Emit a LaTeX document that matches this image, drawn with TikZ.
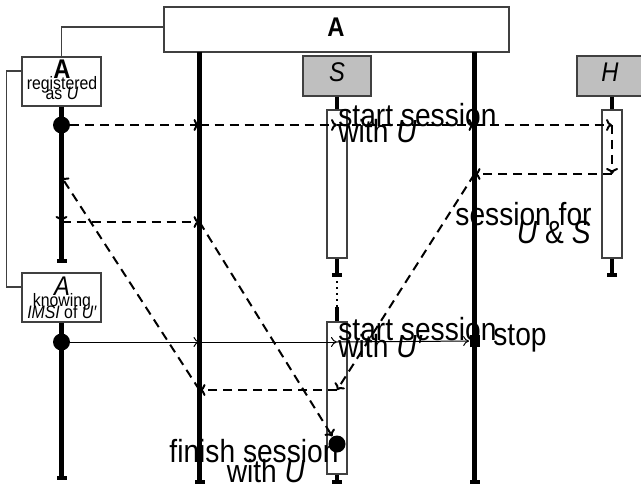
\documentclass[tikz,border=0pt]{standalone}
\usepackage{fontspec}
\setmainfont{Liberation Sans}
\newfontfamily\lblfont[FakeStretch=0.88]{Liberation Sans}
\usetikzlibrary{arrows.meta}

\tikzset{
  lifeline/.style={line width=2.2pt},
  lifeend/.style={line width=2.2pt, -{Bar[width=5pt]}},
  objbox/.style={draw=black!75, line width=0.7pt, inner sep=0pt},
  actbox/.style={draw=black!75, line width=0.6pt, fill=white, minimum width=10pt, inner sep=0pt},
  msg/.style={line width=1pt, dash pattern=on 4.5pt off 3pt, -{To[length=3pt,width=6pt]}},
  syncmsg/.style={line width=0.5pt, -{To[length=3pt,width=5pt]}},
  msgdot/.style={circle, fill, inner sep=0pt, minimum size=8.5pt},
  bigtext/.style={font=\lblfont\fontsize{16}{16}\selectfont, inner sep=0pt},
  smalltext/.style={font=\lblfont\fontsize{9}{9}\selectfont, inner sep=0pt},
  headtext/.style={font=\lblfont\fontsize{13.5}{13.5}\selectfont, inner sep=0pt},
  headbold/.style={font=\lblfont\fontsize{13.5}{13.5}\selectfont\bfseries, inner sep=0pt},
}

\begin{document}
\begin{tikzpicture}[x=0.5pt,y=-0.5pt]
    \useasboundingbox (0,0) rectangle (641,486);

    % Objects
    \node[objbox, minimum width=172.5pt, minimum height=22.5pt] (sys) at (336.5,29.5) {};
    \node[objbox, minimum width=39.5pt, minimum height=24.5pt] (regU) at (61.5,81.5) {};
    \node[objbox, minimum width=39.5pt, minimum height=24.5pt] (knowU) at (61.5,297.5) {};
    \node[objbox, fill=gray!50, minimum width=34pt, minimum height=20pt] (srv) at (337,76) {};
    \node[objbox, fill=gray!50, minimum width=35pt, minimum height=20pt] (hss) at (612,76) {};

    % Ends of the lifelines
    \coordinate (uEnd1) at (61.5,263);
    \coordinate (uEnd2) at (61.5,480);
    \coordinate (aTop) at (199.5,52);
    \coordinate (aEnd) at (199.5,484);
    \coordinate (bTop) at (474.5,52);
    \coordinate (bEnd) at (474.5,484);
    \coordinate (sEnd1) at (337,277);
    \coordinate (sGap1) at (337,281);
    \coordinate (sGap2) at (337,307);
    \coordinate (sEnd2) at (337,484);
    \coordinate (hEnd) at (612,277);

    % Draw lifelines
    \draw[lifeend] (regU.south) -- (uEnd1);
    \draw[lifeend] (knowU.south) -- (uEnd2);
    \draw[lifeend] (aTop) -- (aEnd);
    \draw[lifeend] (bTop) -- (bEnd);
    \draw[lifeend] (srv.south) -- (sEnd1);
    \draw[line width=1pt, dotted] (sGap1) -- (sGap2);
    \draw[lifeline] (sGap2) -- (337,322);
    \draw[lifeend] (hss.south) -- (hEnd);

    % Activation boxes
    \node[actbox, minimum height=74pt] (srvAct1) at (337,184) {};
    \node[actbox, minimum height=74pt] (hssAct) at (612,184) {};
    \node[actbox, minimum height=76pt] (srvAct2) at (337,398) {};
    \draw[lifeend] (srvAct2.south) -- (sEnd2);

    % Brackets between the objects
    \draw[line width=0.7pt, draw=black!75] ([yshift=1.25pt]sys.west) -| (regU.north);
    \draw[line width=0.7pt, draw=black!75] ([yshift=5.25pt]regU.west) -- ++(-15,0) |- ([yshift=5.25pt]knowU.west);

    % Events on the lifelines
    \node[msgdot] (u1) at (61.5,125) {};
    \node[msgdot] (u2) at (61.5,342) {};
    \node[msgdot] (fin) at (337,444) {};
    \node[fill, inner sep=0pt, minimum width=5pt, minimum height=6pt] (stopsq) at (474.5,341) {};

    \coordinate (a1) at (199.5,125);
    \coordinate (s1) at (337,125);
    \coordinate (b1) at (474.5,125);
    \coordinate (h1) at (612,125);
    \coordinate (h2) at (612,174);
    \coordinate (b2) at (474.5,174);
    \coordinate (s3) at (337,390);
    \coordinate (a3) at (199.5,390);
    \coordinate (u3) at (61.5,177);
    \coordinate (u4) at (61.5,222);
    \coordinate (a2) at (199.5,222);
    \coordinate (a4) at (199.5,342);
    \coordinate (s4) at (337,342);

    % Messages
    \draw[msg] (u1) -- (a1);
    \draw[msg] (a1) -- (s1);
    \draw[msg] (s1) -- (b1);
    \draw[msg] (b1) -- (h1);
    \draw[msg] (h1) -- (h2);
    \draw[msg] (h2) -- (b2);
    \draw[msg] (b2) -- (s3);
    \draw[msg] (s3) -- (a3);
    \draw[msg] (a3) -- (u3);
    \draw[msg] (u3) -- (u4);
    \draw[msg] (u4) -- (a2);
    \draw[msg] (a2) -- (fin);
    \draw[syncmsg] (u2) -- (a4);
    \draw[syncmsg] (a4) -- (s4);
    \draw[syncmsg] (s4) -- (stopsq);

    % Object labels
    \node[headbold, anchor=base] (sysL) at (336,37) {A};
    \node[headbold, anchor=base] (regA) at (62,79) {A};
    \node[smalltext, anchor=base] (regL1) at (62,90) {registered};
    \node[smalltext, anchor=base] (regL2) at (62,100) {as \textit{U}};
    \node[headtext, anchor=base] (knowA) at (62,295) {\textit{A}};
    \node[smalltext, anchor=base] (knowL1) at (62,306) {knowing};
    \node[smalltext, anchor=base] (knowL2) at (62,318) {\textit{IMSI} of \textit{U′}};
    \node[headtext, anchor=base] (srvL) at (337,82) {\textit{S}};
    \node[headtext, anchor=base] (hssL) at (610,82) {\textit{H}};

    % Message labels
    \node[bigtext, anchor=base west] (t1a) at (338,127) {start session};
    \node[bigtext, anchor=base west] (t1b) at (338,143) {with \textit{U}};
    \node[bigtext, anchor=base west] (t2a) at (338,340) {start session};
    \node[bigtext, anchor=base west] (t2b) at (338,357) {with \textit{U′}};
    \node[bigtext, anchor=base west] (stopL) at (493,345) {stop};
    \node[bigtext, anchor=base east] (t3a) at (592,225) {session for};
    \node[bigtext, anchor=base east] (t3b) at (591,243) {\textit{U} \& \textit{S}};
    \node[bigtext, anchor=base] (t4a) at (254,462) {finish session};
    \node[bigtext, anchor=base] (t4b) at (266,482) {with \textit{U}};

\end{tikzpicture}
\end{document}
